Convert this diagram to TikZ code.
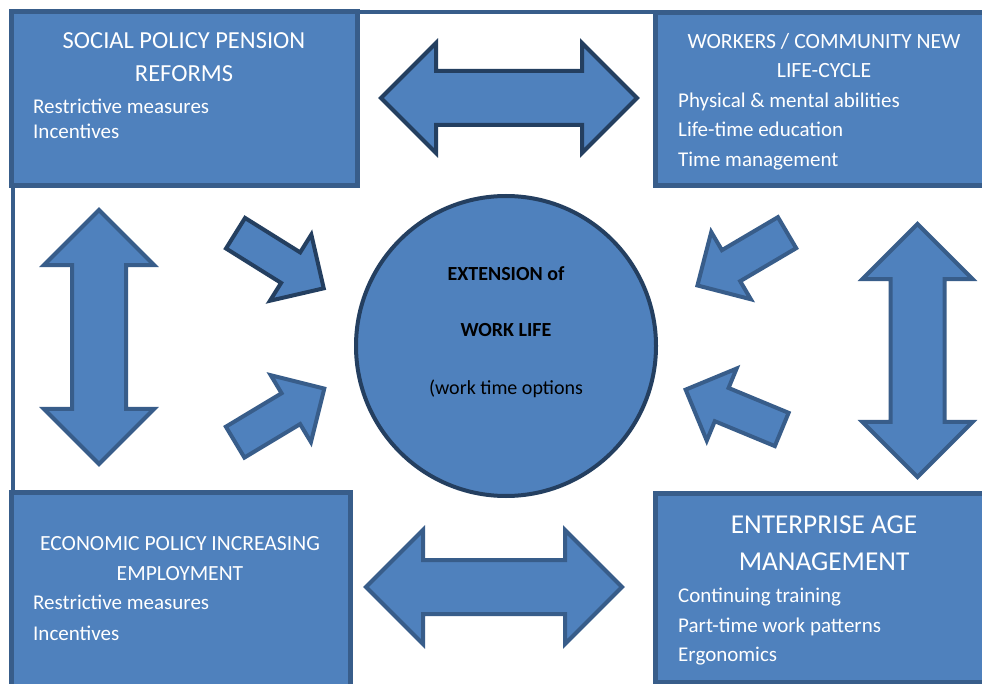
\documentclass[tikz,border=0pt]{standalone}
\usepackage{fontspec}
\setmainfont{Carlito}
\usetikzlibrary{shapes.arrows}
\definecolor{fillblue}{HTML}{4F81BD}
\definecolor{edgeblue}{HTML}{385D8A}
\definecolor{navyedge}{HTML}{243F60}
\tikzset{
  panel/.style={rectangle, draw=edgeblue, line width=5pt, fill=fillblue, inner sep=0pt},
  heading/.style={anchor=base, text=white, inner sep=0pt},
  item/.style={anchor=base west, text=white, inner sep=0pt, font=\fontsize{21}{25}\selectfont},
  twoway/.style={double arrow, draw=edgeblue, line width=4pt, fill=fillblue, inner sep=0pt,
    text height=50pt, text depth=0pt, double arrow head extend=#1},
  oneway/.style={single arrow, draw=edgeblue, line width=4pt, fill=fillblue, inner sep=0pt,
    text height=32pt, text depth=0pt, minimum height=104pt, single arrow head extend=21pt},
  hub/.style={circle, draw=navyedge, line width=4pt, fill=fillblue, inner sep=0pt, minimum size=300pt},
  hubtext/.style={anchor=base, inner sep=0pt, font=\fontsize{20}{24}\selectfont},
}

\begin{document}
\begin{tikzpicture}[x=1pt,y=-1pt]
  \clip (0,0) rectangle (982,684);
  \fill[white] (0,0) rectangle (982,684);

  %% frame round the panels
  \draw[edgeblue, line width=4pt] (12.5,700) -- (12.5,12.5) -- (990,12.5);

  %% corner panels
  \node[panel, minimum width=346pt, minimum height=174pt] (social) at (184,99) {};
  \node[panel, minimum width=340pt, minimum height=173pt] (workers) at (825,99.5) {};
  \node[panel, minimum width=339pt, minimum height=203pt] (economy) at (180.5,593.5) {};
  \node[panel, minimum width=340pt, minimum height=189pt] (enterprise) at (825,587.5) {};

  %% two-way arrows between panels
  \node[twoway=28pt, draw=navyedge, minimum height=256pt] (topflow) at (509,98) {};
  \node[twoway=30pt, minimum height=256pt] (bottomflow) at (494,587) {};
  \node[twoway=28pt, minimum height=254pt, rotate=90] (leftflow) at (99,337) {};
  \node[twoway=28pt, minimum height=253pt, rotate=90] (rightflow) at (917.5,350.5) {};

  %% arrows into the centre
  \node[oneway, draw=navyedge, rotate=-32] (socialin) at (272,256) {};
  \node[oneway, rotate=31] (economyin) at (272,420) {};
  \node[oneway, rotate=210.5] (workersin) at (750,254.5) {};
  \node[oneway, rotate=157.5] (enterprisein) at (742,413) {};

  \node[hub] (work) at (506,346) {};

  %% panel texts
  \node[heading, font=\fontsize{24.5}{30}\selectfont] (social-t1) at (184,48.3) {SOCIAL POLICY PENSION};
  \node[heading, font=\fontsize{24.5}{30}\selectfont] (social-t2) at (184,81.7) {REFORMS};
  \node[item] (social-i1) at (33,113.3) {Restrictive measures};
  \node[item] (social-i2) at (33,139) {Incentives};

  \node[heading, font=\fontsize{21.7}{30}\selectfont] (workers-t1) at (824,48.3) {WORKERS / COMMUNITY NEW};
  \node[heading, font=\fontsize{21.7}{30}\selectfont] (workers-t2) at (824,77.3) {LIFE-CYCLE};
  \node[item] (workers-i1) at (678,107.3) {Physical \& mental abilities};
  \node[item] (workers-i2) at (678,136.7) {Life-time education};
  \node[item] (workers-i3) at (678,166.7) {Time management};

  \node[heading, font=\fontsize{21.6}{30}\selectfont] (economy-t1) at (180,550.7) {ECONOMIC POLICY INCREASING};
  \node[heading, font=\fontsize{21.6}{30}\selectfont] (economy-t2) at (180,580) {EMPLOYMENT};
  \node[item] (economy-i1) at (33,609.3) {Restrictive measures};
  \node[item] (economy-i2) at (33,640.5) {Incentives};

  \node[heading, font=\fontsize{27.3}{34}\selectfont] (enterprise-t1) at (824,533.3) {ENTERPRISE AGE};
  \node[heading, font=\fontsize{27.3}{34}\selectfont] (enterprise-t2) at (824,570.7) {MANAGEMENT};
  \node[item] (enterprise-i1) at (678,602.7) {Continuing training};
  \node[item] (enterprise-i2) at (678,632) {Part-time work patterns};
  \node[item] (enterprise-i3) at (678,661.7) {Ergonomics};

  %% centre text
  \node[hubtext, font=\fontsize{20}{24}\selectfont\bfseries] (work-l1) at (506,281) {EXTENSION of};
  \node[hubtext, font=\fontsize{20}{24}\selectfont\bfseries] (work-l2) at (506,337) {WORK LIFE};
  \node[hubtext] (work-l3) at (506,394) {(work time options};
\end{tikzpicture}
\end{document}
